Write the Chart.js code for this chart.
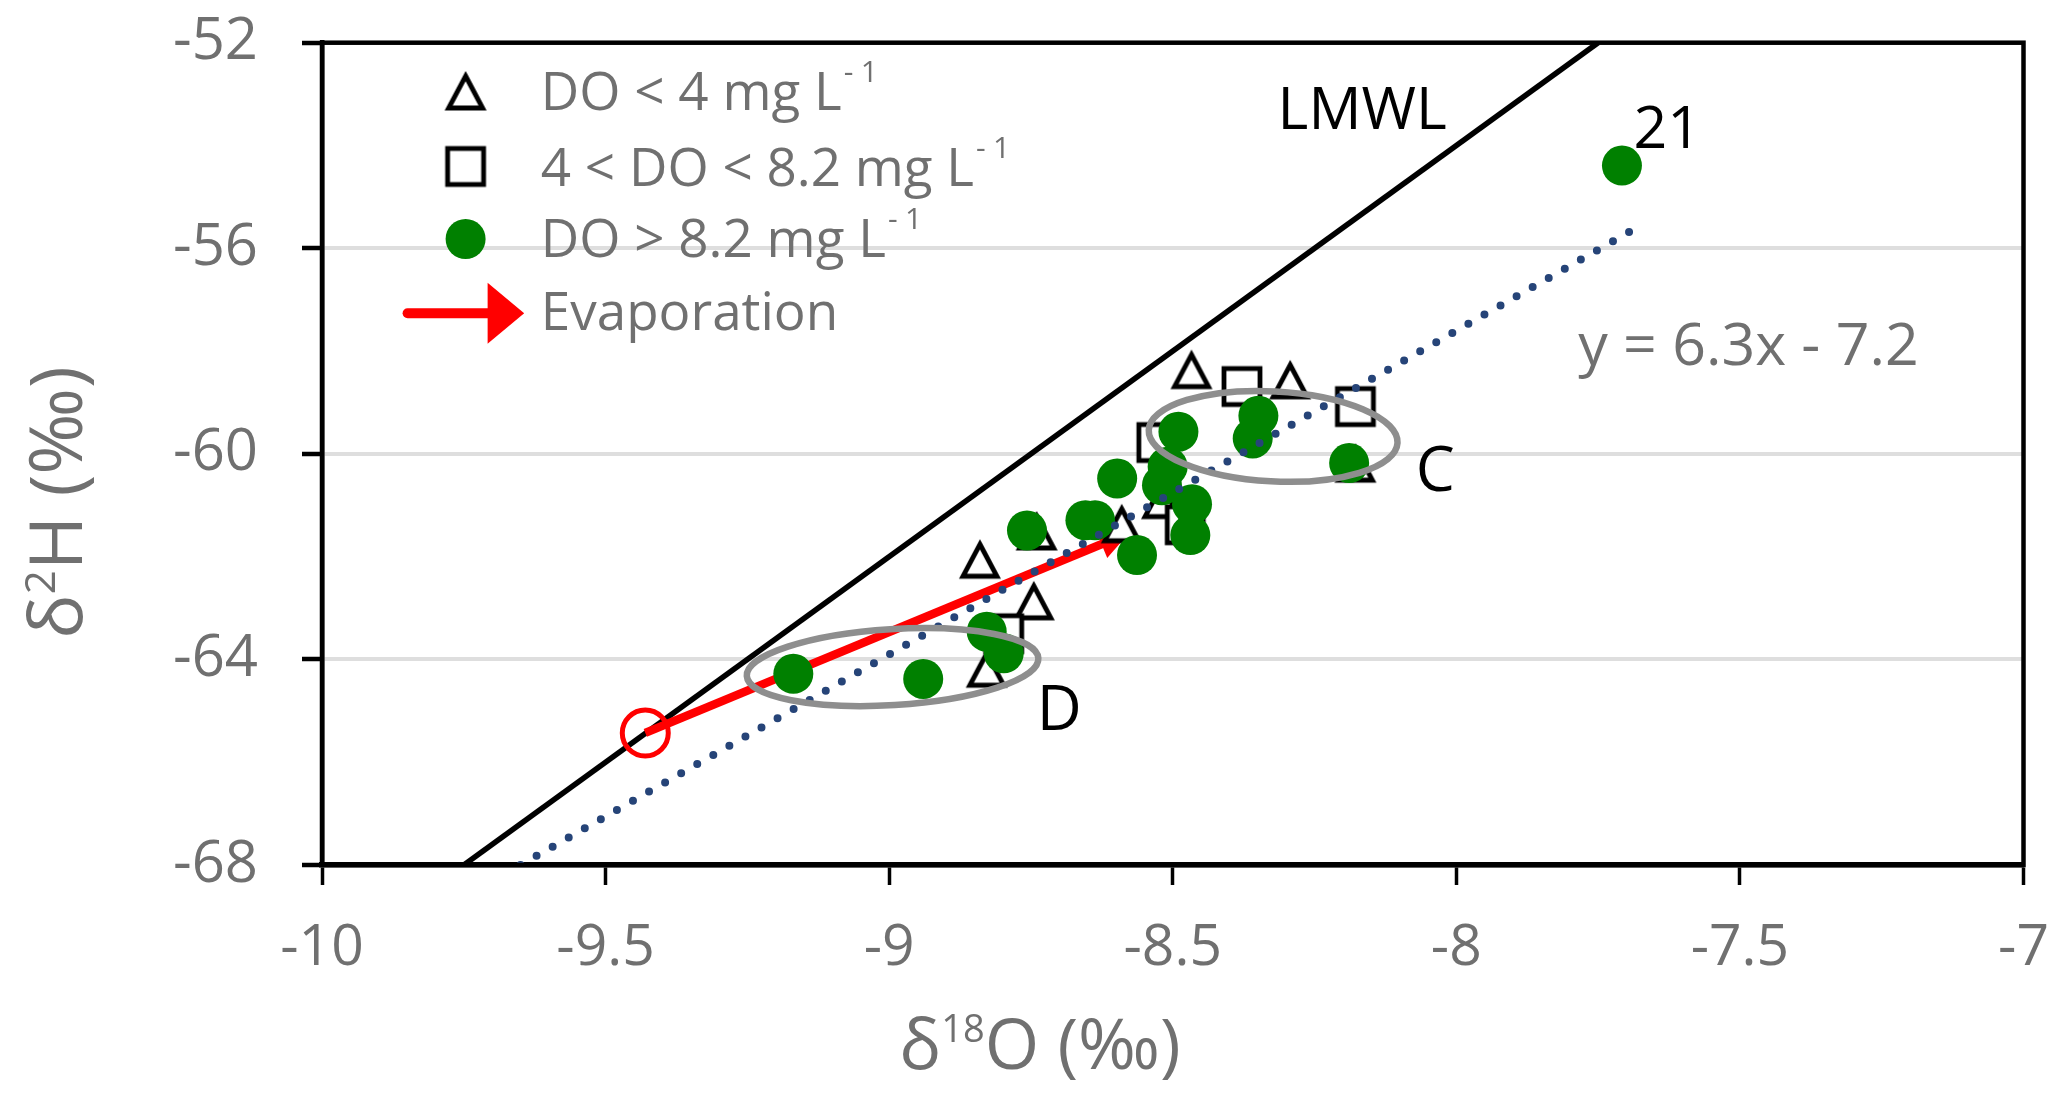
<!DOCTYPE html>
<html><head><meta charset="utf-8">
<script src="https://cdn.jsdelivr.net/npm/chart.js@4.4.0/dist/chart.umd.min.js"></script>
<style>html,body{margin:0;padding:0;background:#fff;overflow:hidden}</style>
</head><body>
<canvas id="c" width="2067" height="1101" style="width:2067px;height:1101px;display:block"></canvas>
<script>
// ---- data ----
const xTickValues = [-10, -9.5, -9, -8.5, -8, -7.5, -7];
const yTickValues = [-68, -64, -60, -56, -52];

const lowDO_x = [-8.467, -8.293, -8.178, -8.590, -8.740, -8.840, -8.745, -8.828, -8.519];
const lowDO_y = [-58.38, -58.58, -60.20, -61.38, -61.52, -62.07, -62.88, -64.19, -60.91];

const midDO_x = [-8.378, -8.178, -8.528, -8.478, -8.798];
const midDO_y = [-58.69, -59.08, -59.78, -61.38, -63.50];

const highDO_x = [-7.708, -8.189, -8.349, -8.359, -8.490, -8.509, -8.519, -8.598, -8.466, -8.469,
                  -8.654, -8.637, -8.757, -8.563, -8.828, -8.798, -9.169, -8.940];
const highDO_y = [-54.39, -60.18, -59.26, -59.70, -59.57, -60.25, -60.61, -60.48, -60.98, -61.58,
                  -61.29, -61.29, -61.49, -61.97, -63.46, -63.88, -64.28, -64.38];

const lmwl_x = [-9.75, -7.75];
const lmwl_y = [-68, -52];
const trend_x = [-9.65, -7.69];
const trend_y = [-68.0, -55.65];
const evap_x = [-9.43, -8.58];
const evap_y = [-65.43, -61.55];

const legendLabels = ['DO < 4 mg L', '4 < DO < 8.2 mg L', 'DO > 8.2 mg L', 'Evaporation'];
const legendSup = ['-1', '-1', '-1', ''];

// annotation texts (anchored in data coordinates)
const textLabels = [
  {t: 'LMWL', x: -8.166, y: -53.27, size: 59, color: '#000'},
  {t: '21', x: -7.628, y: -53.64, size: 59, color: '#000'},
  {t: 'C', x: -8.037, y: -60.30, size: 62, color: '#000'},
  {t: 'D', x: -8.700, y: -64.95, size: 62, color: '#000'},
  {t: 'y = 6.3x - 7.2', x: -7.485, y: -57.86, size: 59, color: '#707070'}
];
// ellipses: centre, semi-axes in data units, rotation degrees
const ellipses = [
  {cx: -8.323, cy: -59.66, rx: 0.2196, ry: 0.876, rot: 3},
  {cx: -8.994, cy: -64.15, rx: 0.2575, ry: 0.739, rot: -3.5}
];

const FONT = "'Open Sans', 'Noto Sans', sans-serif";
const GREY = '#707070';

const pts = (xs, ys) => xs.map((x, i) => ({x, y: ys[i]}));

function makeTri() {
  const c = document.createElement('canvas'); c.width = 48; c.height = 46;
  const g = c.getContext('2d'); g.lineWidth = 4.8; g.strokeStyle = '#000'; g.lineJoin = 'miter';
  g.beginPath(); g.moveTo(24, 7); g.lineTo(41, 39); g.lineTo(7, 39); g.closePath();
  g.fillStyle = '#fff'; g.fill(); g.stroke();
  return c;
}
function makeSq() {
  const c = document.createElement('canvas'); c.width = 46; c.height = 46;
  const g = c.getContext('2d'); g.lineWidth = 4.8; g.strokeStyle = '#000';
  g.fillStyle = '#fff'; g.fillRect(5, 5, 36, 36);
  g.strokeRect(5, 5, 36, 36);
  return c;
}
const triImg = makeTri();
const sqImg = makeSq();

function drawRich(ctx, parts, x, y) {
  for (const p of parts) {
    ctx.font = `${p.size}px ${FONT}`;
    ctx.fillText(p.t, x, y - (p.rise || 0));
    x += ctx.measureText(p.t).width + (p.gap || 0);
  }
  return x;
}
function richWidth(ctx, parts) {
  let w = 0;
  for (const p of parts) { ctx.font = `${p.size}px ${FONT}`; w += ctx.measureText(p.t).width + (p.gap || 0); }
  return w;
}

const annot = {
  id: 'annot',
  afterDatasetDraw(chart, args) {
    const ds = chart.data.datasets[args.index];
    if (ds.label !== 'Evaporation') return;
    const ctx = chart.ctx;
    const d = args.meta.data;
    const a = d[d.length - 2], b = d[d.length - 1];
    const ang = Math.atan2(b.y - a.y, b.x - a.x);
    ctx.save();
    ctx.translate(b.x, b.y); ctx.rotate(ang);
    ctx.beginPath(); ctx.moveTo(2, 0); ctx.lineTo(-28, -15); ctx.lineTo(-28, 15); ctx.closePath();
    ctx.fillStyle = '#ff0000'; ctx.fill();
    ctx.restore();
  },
  afterDatasetsDraw(chart) {
    const ctx = chart.ctx, xs = chart.scales.x, ys = chart.scales.y, ca = chart.chartArea;
    ctx.save();
    for (const e of ellipses) {
      const cx = xs.getPixelForValue(e.cx), cy = ys.getPixelForValue(e.cy);
      const rx = Math.abs(xs.getPixelForValue(e.cx + e.rx) - cx);
      const ry = Math.abs(ys.getPixelForValue(e.cy + e.ry) - cy);
      ctx.beginPath(); ctx.ellipse(cx, cy, rx, ry, e.rot * Math.PI / 180, 0, Math.PI * 2);
      ctx.strokeStyle = '#8e8e8e'; ctx.lineWidth = 6.5; ctx.stroke();
    }
    ctx.textAlign = 'center'; ctx.textBaseline = 'alphabetic';
    for (const l of textLabels) {
      ctx.font = `${l.size}px ${FONT}`; ctx.fillStyle = l.color;
      ctx.fillText(l.t, xs.getPixelForValue(l.x), ys.getPixelForValue(l.y) + 0.357 * l.size);
    }
    ctx.strokeStyle = '#000'; ctx.lineWidth = 4.5;
    ctx.strokeRect(ca.left, ca.top, ca.right - ca.left, ca.bottom - ca.top);
    ctx.restore();
  },
  afterDraw(chart) {
    const ctx = chart.ctx, ca = chart.chartArea;
    ctx.save();
    const mx = ca.left + 143.6, tx = ca.left + 218.8;
    const rows = [49.3, 123.8, 196.3, 270.6].map(v => ca.top + v);
    ctx.drawImage(triImg, mx - triImg.width / 2, rows[0] - triImg.height / 2);
    ctx.drawImage(sqImg, mx - sqImg.width / 2, rows[1] - sqImg.height / 2);
    ctx.beginPath(); ctx.arc(mx, rows[2], 20, 0, Math.PI * 2); ctx.fillStyle = '#008000'; ctx.fill();
    ctx.strokeStyle = '#ff0000'; ctx.lineWidth = 10; ctx.lineCap = 'round';
    ctx.beginPath(); ctx.moveTo(mx - 58, rows[3]); ctx.lineTo(mx + 25, rows[3]); ctx.stroke();
    ctx.beginPath(); ctx.moveTo(mx + 22, rows[3] - 30.5); ctx.lineTo(mx + 58.6, rows[3]); ctx.lineTo(mx + 22, rows[3] + 30.5);
    ctx.closePath(); ctx.fillStyle = '#ff0000'; ctx.fill();
    ctx.fillStyle = GREY; ctx.textAlign = 'left'; ctx.textBaseline = 'alphabetic';
    const capC = [91 - 42.7, 167.5 - 42.7, 237.6 - 42.7, 311 - 42.7].map(v => ca.top + v);
    legendLabels.forEach((t, i) => {
      const base = capC[i] + 0.357 * 53;
      ctx.font = `53px ${FONT}`;
      ctx.fillText(t, tx, base);
      if (legendSup[i]) {
        let x = tx + ctx.measureText(t).width + 2;
        ctx.font = `30px ${FONT}`;
        ctx.fillText('-', x, base - 28);
        ctx.fillText('1', x + 17, base - 28);
      }
    });
    ctx.fillStyle = GREY;
    const xt = [{t: 'δ', size: 70}, {t: '18', size: 38, rise: 27}, {t: 'O (‰)', size: 70}];
    const xw = richWidth(ctx, xt);
    drawRich(ctx, xt, 1040 - xw / 2, 1069);
    const yt = [{t: 'δ', size: 74}, {t: '2', size: 42, rise: 27}, {t: 'H (‰)', size: 74}];
    const yw = richWidth(ctx, yt);
    ctx.translate(81.7, 502.5); ctx.rotate(-Math.PI / 2);
    drawRich(ctx, yt, -yw / 2, 0);
    ctx.restore();
  }
};

const ctx = document.getElementById('c').getContext('2d');
new Chart(ctx, {
  type: 'scatter',
  data: {
    datasets: [
      {label: 'Trend', data: pts(trend_x, trend_y), showLine: true, borderColor: '#264478', borderWidth: 8,
       borderDash: [0, 18.5], borderCapStyle: 'round', pointRadius: 0, fill: false, order: 1},
      {label: 'DO > 8.2', data: pts(highDO_x, highDO_y), pointStyle: 'circle', pointRadius: 20,
       backgroundColor: '#008000', borderColor: '#008000', borderWidth: 0, order: 2},
      {label: '4 < DO < 8.2', data: pts(midDO_x, midDO_y), pointStyle: sqImg, pointRadius: 20, order: 3},
      {label: 'DO < 4', data: pts(lowDO_x, lowDO_y), pointStyle: triImg, pointRadius: 20, order: 4},
      {label: 'Evaporation', data: pts(evap_x, evap_y), showLine: true, borderColor: '#ff0000', borderWidth: 8.5,
       pointStyle: 'circle', pointRadius: [23, 0], pointBorderWidth: 5, pointBorderColor: '#ff0000',
       pointBackgroundColor: 'rgba(0,0,0,0)', fill: false, order: 5},
      {label: 'LMWL', data: pts(lmwl_x, lmwl_y), showLine: true, borderColor: '#000', borderWidth: 5.5,
       pointRadius: 0, fill: false, order: 6}
    ]
  },
  options: {
    responsive: false, animation: false, events: [], devicePixelRatio: 1,
    layout: {padding: {left: 0, right: 43.5, top: 42.7, bottom: 0}},
    plugins: {legend: {display: false}, tooltip: {enabled: false}, title: {display: false}},
    scales: {
      x: {
        type: 'linear', position: 'bottom', min: -10, max: -7,
        afterBuildTicks: s => { s.ticks = xTickValues.map(v => ({value: v})); },
        afterFit: s => { s.height = 1101 - 865; s.paddingLeft = 0; s.paddingRight = 0; s.paddingTop = 0; s.paddingBottom = 0; },
        ticks: {font: {family: FONT, size: 57}, color: GREY, padding: 30, maxRotation: 0, autoSkip: false,
                callback: v => String(v)},
        grid: {drawOnChartArea: false, drawTicks: true, tickLength: 20, tickWidth: 3.5, tickColor: '#000', color: '#000'},
        border: {display: true, color: '#000', width: 5.5}
      },
      y: {
        type: 'linear', position: 'left', min: -68, max: -52,
        afterBuildTicks: s => { s.ticks = yTickValues.map(v => ({value: v})); },
        afterFit: s => { s.width = 322; s.paddingLeft = 0; s.paddingRight = 0; s.paddingTop = 0; s.paddingBottom = 0; },
        ticks: {font: {family: FONT, size: 58}, color: GREY, padding: 44, callback: v => String(v)},
        grid: {drawOnChartArea: true, drawTicks: true, tickLength: 20, tickWidth: 4.5, tickColor: '#000',
               lineWidth: 4,
               color: c => (c.tick && (c.tick.value === -52 || c.tick.value === -68)) ? 'rgba(0,0,0,0)' : '#dedede'},
        border: {display: true, color: '#000', width: 4.5}
      }
    }
  },
  plugins: [annot]
});
</script>
</body></html>
